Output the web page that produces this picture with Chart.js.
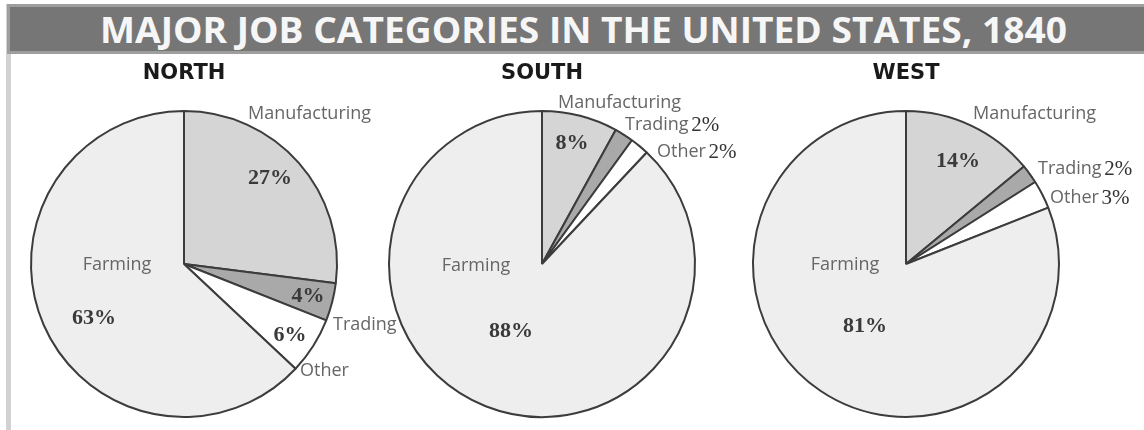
<!DOCTYPE html>
<html>
<head>
<meta charset="utf-8">
<script src="https://cdn.jsdelivr.net/npm/chart.js@4.4.1/dist/chart.umd.min.js"></script>
<style>
  html, body { margin: 0; padding: 0; background: #fff; }
  body { width: 1144px; height: 430px; position: relative; overflow: hidden; }
  .side-rule { position: absolute; left: 6px; top: 4px; bottom: 0; width: 5px; background: #d2d2d2; }
  .title-bar {
    position: absolute; left: 7px; right: 0; top: 4px; height: 50px;
    box-sizing: border-box; background: #767676;
    border: 3px solid #9e9e9e; border-right: none;
  }
  #title {
    position: absolute; left: 100px; top: 12px; display: inline-block;
    white-space: nowrap; transform-origin: 0 0;
    font-family: "Open Sans", sans-serif; font-weight: 700; font-size: 36px;
    line-height: 1; color: #f6f6f6;
  }
  .pie-box { position: absolute; top: 50px; width: 420px; height: 380px; }
</style>
</head>
<body>
<div class="side-rule"></div>
<div class="title-bar"></div>
<span id="title">MAJOR JOB CATEGORIES IN THE UNITED STATES, 1840</span>
<div class="pie-box" id="box-north"><canvas id="north-chart" width="420" height="380"></canvas></div>
<div class="pie-box" id="box-south"><canvas id="south-chart" width="420" height="380"></canvas></div>
<div class="pie-box" id="box-west"><canvas id="west-chart" width="420" height="380"></canvas></div>

<script>
  // Data (percent of workers)
  const categories = ['Manufacturing', 'Trading', 'Other', 'Farming'];
  const regionNames = ['NORTH', 'SOUTH', 'WEST'];
  const northValues = [27, 4, 6, 63];
  const southValues = [8, 2, 2, 88];
  const westValues = [14, 2, 3, 81];

  // Slice fills, same order as categories
  const sliceColors = ['#d5d5d5', '#a9a9a9', '#ffffff', '#eeeeee'];

  // Label placement relative to the pie centre.
  // name: [dx, dy, align]; pct: [dx, dy] centred, or 'inline' to follow the name
  const labelLayout = {
    NORTH: {
      Manufacturing: { name: [64, -150, 'left'], pct: [86, -86] },
      Trading: { name: [149, 61, 'left'], pct: [124, 32] },
      Other: { name: [116, 107, 'left'], pct: [106, 71] },
      Farming: { name: [-67, 1, 'center'], pct: [-90, 54] }
    },
    SOUTH: {
      Manufacturing: { name: [16, -161, 'left'], pct: [30, -121] },
      Trading: { name: [83, -139, 'left'], pct: 'inline' },
      Other: { name: [115, -112, 'left'], pct: 'inline' },
      Farming: { name: [-66, 2, 'center'], pct: [-31, 67] }
    },
    WEST: {
      Manufacturing: { name: [67, -150, 'left'], pct: [52, -103] },
      Trading: { name: [132, -95, 'left'], pct: 'inline' },
      Other: { name: [144, -66, 'left'], pct: 'inline' },
      Farming: { name: [-61, 1, 'center'], pct: [-41, 62] }
    }
  };

  const pieCentersX = { NORTH: 184, SOUTH: 542, WEST: 906 };
  const PIE_RADIUS = 153;

  const nameFont = '18px "Open Sans", sans-serif';
  const pctFont = 'bold 22px "Liberation Serif", "Times New Roman", serif';
  const inlinePctFont = '21px "Liberation Serif", "Times New Roman", serif';
  const headingFont = 'bold 21px "DejaVu Sans", sans-serif';

  // Draws region heading and slice labels on top of the pie
  const pieLabels = {
    id: 'pieLabels',
    afterDatasetsDraw(chart, args, opts) {
      const ctx = chart.ctx;
      const arc = chart.getDatasetMeta(0).data[0];
      const cx = arc.x;
      const cy = arc.y;
      const values = chart.data.datasets[0].data;
      const layout = labelLayout[opts.region];

      ctx.save();
      ctx.textBaseline = 'middle';

      ctx.font = headingFont;
      ctx.fillStyle = '#1a1a1a';
      ctx.textAlign = 'center';
      ctx.fillText(opts.region, cx, cy - 190);

      chart.data.labels.forEach((cat, i) => {
        const spot = layout[cat];
        const pctText = values[i] + '%';
        const [nx, ny, align] = spot.name;

        ctx.font = nameFont;
        ctx.fillStyle = '#666';
        ctx.textAlign = align;
        ctx.fillText(cat, cx + nx, cy + ny);

        if (spot.pct === 'inline') {
          const w = ctx.measureText(cat + ' ').width;
          ctx.font = inlinePctFont;
          ctx.fillStyle = '#333';
          ctx.textAlign = 'left';
          ctx.fillText(pctText, cx + nx + w - 2, cy + ny);
        } else {
          ctx.font = pctFont;
          ctx.fillStyle = '#3a3a3a';
          ctx.textAlign = 'center';
          ctx.fillText(pctText, cx + spot.pct[0], cy + spot.pct[1]);
        }
      });
      ctx.restore();
    }
  };

  function makePie(canvasId, region, values) {
    const box = document.getElementById('box-' + region.toLowerCase());
    box.style.left = (pieCentersX[region] - 190) + 'px';

    return new Chart(document.getElementById(canvasId), {
      type: 'pie',
      data: {
        labels: categories,
        datasets: [{
          data: values,
          backgroundColor: sliceColors,
          borderColor: '#3c3c3c',
          borderWidth: 2
        }]
      },
      options: {
        responsive: false,
        animation: false,
        radius: PIE_RADIUS,
        layout: { padding: { left: 30, right: 70, top: 54, bottom: 6 } },
        plugins: {
          legend: { display: false },
          tooltip: { enabled: false },
          pieLabels: { region: region }
        }
      },
      plugins: [pieLabels]
    });
  }

  function fitTitle() {
    const t = document.getElementById('title');
    const w = t.getBoundingClientRect().width;
    t.style.transform = 'scaleX(' + (967 / w) + ')';
  }

  fitTitle();
  makePie('north-chart', regionNames[0], northValues);
  makePie('south-chart', regionNames[1], southValues);
  makePie('west-chart', regionNames[2], westValues);
</script>
</body>
</html>
